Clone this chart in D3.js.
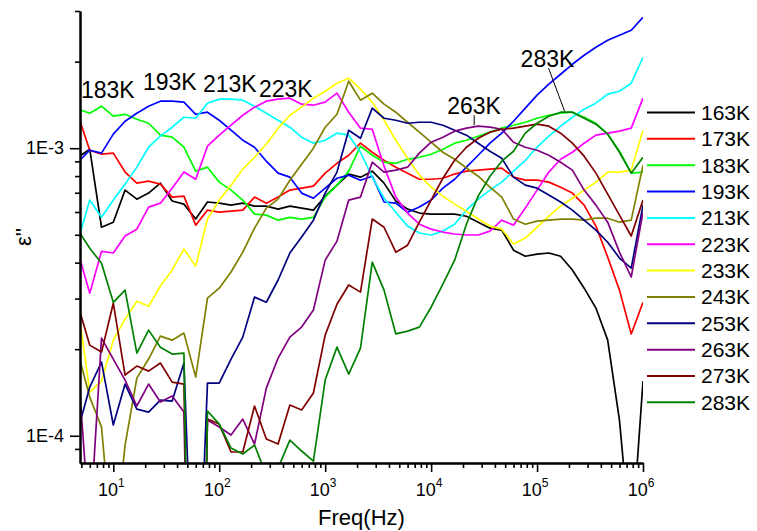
<!DOCTYPE html>
<html>
<head>
<meta charset="utf-8">
<script src="https://cdn.jsdelivr.net/npm/d3@7"></script>
<style>
  html, body { margin: 0; padding: 0; background: #fff; }
  svg { display: block; font-family: "Liberation Sans", Arial, sans-serif; }
</style>
</head>
<body>
<svg id="chart" width="757" height="531"></svg>
<script>
// Measurement frequencies (Hz), 9 points per decade
const freqs = [4.642, 5.995, 7.743, 10, 12.92, 16.68, 21.54, 27.83, 35.94, 46.42,
  59.95, 77.43, 100, 129.2, 166.8, 215.4, 278.3, 359.4, 464.2, 599.5,
  774.3, 1000, 1292, 1668, 2154, 2783, 3594, 4642, 5995, 7743,
  10000, 12915, 16681, 21544, 27826, 35938, 46416, 59948, 77426, 100000,
  129155, 166810, 215443, 278256, 359381, 464159, 599484, 774264, 1000000];

// Dielectric loss ε'' for each temperature, in units of 1E-3
const eps163 = [0.930, 0.992, 0.531, 0.553, 0.715, 0.665, 0.698, 0.756, 0.655, 0.639,
  0.567, 0.650, 0.644, 0.634, 0.644, 0.629, 0.629, 0.614, 0.629, 0.619,
  0.609, 0.681, 0.744, 0.813, 0.793, 0.832, 0.756, 0.655, 0.614, 0.595,
  0.590, 0.590, 0.590, 0.580, 0.553, 0.527, 0.519, 0.442, 0.421, 0.428,
  0.432, 0.421, 0.377, 0.326, 0.278, 0.215, 0.1134, 0.0404, 0.155];
const eps173 = [1.302, 0.984, 0.953, 0.961, 0.826, 0.756, 0.768, 0.750, 0.676, 0.681,
  0.540, 0.609, 0.599, 0.604, 0.609, 0.676, 0.644, 0.676, 0.715, 0.726,
  0.738, 0.819, 0.886, 0.945, 1.041, 0.968, 0.908, 0.859, 0.819, 0.780,
  0.780, 0.786, 0.813, 0.832, 0.839, 0.846, 0.853, 0.793, 0.774, 0.774,
  0.762, 0.732, 0.698, 0.634, 0.536, 0.418, 0.321, 0.226, 0.291];
const eps183 = [1.367, 1.323, 1.400, 1.292, 1.312, 1.261, 1.221, 1.110, 1.092, 1.008,
  0.832, 0.859, 0.762, 0.715, 0.660, 0.590, 0.585, 0.562, 0.575, 0.567,
  0.575, 0.676, 0.744, 0.832, 1.016, 0.945, 0.894, 0.886, 0.915, 0.930,
  0.953, 0.992, 1.041, 1.066, 1.101, 1.137, 1.174, 1.202, 1.231, 1.271,
  1.302, 1.323, 1.334, 1.281, 1.221, 1.119, 0.976, 0.819, 0.826];
const eps193 = [0.894, 0.984, 0.961, 1.119, 1.241, 1.323, 1.400, 1.457, 1.457, 1.446,
  1.312, 1.334, 1.251, 1.155, 1.066, 1.008, 0.901, 0.819, 0.793, 0.698,
  0.670, 0.726, 0.786, 0.806, 0.774, 0.799, 0.650, 0.644, 0.599, 0.624,
  0.660, 0.726, 0.780, 0.859, 0.945, 1.041, 1.128, 1.241, 1.378, 1.529,
  1.670, 1.808, 1.958, 2.105, 2.244, 2.374, 2.471, 2.571, 2.854];
const eps213 = [0.475, 0.660, 0.575, 0.660, 0.750, 0.859, 1.008, 1.101, 1.183, 1.281,
  1.271, 1.434, 1.481, 1.481, 1.469, 1.400, 1.323, 1.251, 1.183, 1.092,
  1.041, 1.066, 1.128, 1.110, 0.968, 0.793, 0.670, 0.599, 0.536, 0.507,
  0.499, 0.515, 0.544, 0.609, 0.665, 0.715, 0.762, 0.832, 0.908, 1.008,
  1.101, 1.193, 1.281, 1.367, 1.434, 1.541, 1.578, 1.683, 2.071];
const eps223 = [0.435, 0.313, 0.438, 0.432, 0.495, 0.523, 0.624, 0.644, 0.726, 0.826,
  0.780, 1.016, 1.110, 1.202, 1.302, 1.389, 1.457, 1.481, 1.493, 1.423,
  1.411, 1.446, 1.554, 1.334, 1.174, 1.164, 0.866, 0.676, 0.595, 0.544,
  0.523, 0.511, 0.503, 0.499, 0.499, 0.515, 0.562, 0.540, 0.619, 0.715,
  0.826, 0.915, 0.968, 1.041, 1.110, 1.128, 1.146, 1.174, 1.493];
const eps233 = [0.282, 0.1419, 0.1550, 0.215, 0.2544, 0.2936, 0.282, 0.3317, 0.377, 0.446,
  0.389, 0.567, 0.660, 0.744, 0.846, 0.930, 1.032, 1.174, 1.302, 1.389,
  1.493, 1.578, 1.683, 1.752, 1.604, 1.446, 1.251, 1.066, 0.923, 0.806,
  0.732, 0.681, 0.639, 0.604, 0.567, 0.536, 0.523, 0.464, 0.487, 0.531,
  0.580, 0.629, 0.670, 0.715, 0.762, 0.826, 0.826, 0.839, 1.155];
const eps243 = [0.1939, 0.1363, 0.1072, 0.0370, 0.0928, 0.1587, 0.1848, 0.2221, 0.215, 0.2275,
  0.160, 0.301, 0.326, 0.371, 0.435, 0.527, 0.619, 0.665, 0.774, 0.879,
  1.000, 1.183, 1.312, 1.710, 1.469, 1.553, 1.423, 1.334, 1.231, 1.137,
  1.049, 0.968, 0.915, 0.853, 0.799, 0.732, 0.676, 0.567, 0.544, 0.558,
  0.562, 0.567, 0.567, 0.562, 0.571, 0.571, 0.553, 0.562, 0.872];
const eps253 = [0.1047, 0.1477, 0.1804, 0.1090, 0.1513, 0.1238, 0.1209, 0.1331, 0.1320, 0.1790,
  0.01415, 0.1525, 0.1525, 0.1848, 0.2203, 0.3035, 0.2913, 0.348, 0.432, 0.491,
  0.562, 0.698, 0.826, 1.155, 1.083, 1.378, 1.271, 1.251, 1.221, 1.231,
  1.231, 1.202, 1.155, 1.110, 1.041, 0.976, 0.923, 0.793, 0.744, 0.726,
  0.687, 0.650, 0.609, 0.562, 0.519, 0.471, 0.415, 0.383, 0.634];
const eps263 = [0.1747, 0.0467, 0.2185, 0.1848, 0.1562, 0.1269, 0.1513, 0.1310, 0.1374, 0.1209,
  0.001, 0.1134, 0.1072, 0.1006, 0.1143, 0.0936, 0.1465, 0.1863, 0.2203, 0.2387,
  0.2735, 0.408, 0.475, 0.660, 0.676, 0.894, 0.826, 0.839, 0.859, 0.961,
  1.049, 1.092, 1.146, 1.174, 1.193, 1.183, 1.164, 1.049, 1.008, 0.984,
  0.945, 0.894, 0.839, 0.715, 0.634, 0.553, 0.435, 0.3565, 0.599];
const eps273 = [0.2844, 0.2066, 0.1954, 0.2890, 0.1626, 0.1747, 0.1678, 0.1790, 0.1537, 0.1513,
  0.001, 0.1143, 0.1098, 0.0878, 0.0878, 0.1269, 0.0974, 0.0936, 0.1279, 0.1229,
  0.1408, 0.2239, 0.2867, 0.3344, 0.3159, 0.567, 0.531, 0.435, 0.460, 0.553,
  0.660, 0.786, 0.908, 1.008, 1.083, 1.137, 1.164, 1.174, 1.193, 1.212,
  1.193, 1.128, 1.041, 0.938, 0.819, 0.692, 0.585, 0.495, 0.660];
const eps283 = [0.519, 0.449, 0.398, 0.291, 0.321, 0.1939, 0.233, 0.2033, 0.1923, 0.1939,
  0.0005, 0.1219, 0.1098, 0.0906, 0.0864, 0.0928, 0.0730, 0.0772, 0.0966, 0.0885,
  0.0816, 0.1562, 0.2033, 0.1639, 0.2017, 0.4015, 0.321, 0.226, 0.2312, 0.2387,
  0.2799, 0.337, 0.408, 0.544, 0.681, 0.799, 0.901, 0.976, 1.128, 1.221,
  1.292, 1.334, 1.334, 1.271, 1.212, 1.119, 0.968, 0.819, 0.930];

const tempLabels = ["163K", "173K", "183K", "193K", "213K", "223K",
  "233K", "243K", "253K", "263K", "273K", "283K"];
const tempColors = ["#000000", "#ff0000", "#00ff00", "#0000ff", "#00ffff", "#ff00ff",
  "#ffff00", "#808000", "#000080", "#800080", "#800000", "#008000"];
const epsSeries = [eps163, eps173, eps183, eps193, eps213, eps223,
  eps233, eps243, eps253, eps263, eps273, eps283];
const EPS_UNIT = 1e-3;

const xTickExponents = [1, 2, 3, 4, 5, 6];
const yTickValues = [1e-4, 1e-3];
const yTickLabels = ["1E-4", "1E-3"];

// ---------------------------------------------------------------------------
const svg = d3.select("#chart");
const plot = { left: 80, right: 643, top: 11, bottom: 463 };

const x = d3.scaleLog().domain([4.85, 1e6]).range([plot.left, plot.right]);
const y = d3.scaleLog().domain([8.04e-5, 3e-3]).range([plot.bottom, plot.top]);

svg.append("defs").append("clipPath").attr("id", "plot-clip")
  .append("rect")
  .attr("x", plot.left).attr("y", 0)
  .attr("width", plot.right - plot.left).attr("height", plot.bottom);

// Curves
const series = tempLabels.map((name, i) => ({
  name, color: tempColors[i],
  points: freqs.map((f, k) => ({ f, v: epsSeries[i][k] * EPS_UNIT }))
}));

const line = d3.line().x(d => x(d.f)).y(d => y(d.v));

svg.append("g").attr("clip-path", "url(#plot-clip)")
  .selectAll("path").data(series).join("path")
  .attr("d", d => line(d.points))
  .attr("fill", "none")
  .attr("stroke", d => d.color)
  .attr("stroke-width", 1.7)
  .attr("stroke-linejoin", "round");

// Minor tick positions on the log axes
const xMinor = [];
for (let e = 0; e <= 5; e++) for (let m = 2; m <= 9; m++) {
  const v = m * Math.pow(10, e);
  if (v >= x.domain()[0] && v <= x.domain()[1]) xMinor.push(v);
}
const yMinor = [];
for (let e = -5; e <= -3; e++) for (let m = 2; m <= 9; m++) {
  const v = m * Math.pow(10, e);
  if (v >= y.domain()[0] && v <= y.domain()[1]) yMinor.push(v);
}

// X axis
const gx = svg.append("g").attr("transform", `translate(0,${plot.bottom})`);
gx.call(d3.axisBottom(x).tickValues(xMinor).tickSize(5).tickSizeOuter(0).tickFormat(""));
gx.call(g => g.append("g").call(
  d3.axisBottom(x).tickValues(xTickExponents.map(e => Math.pow(10, e))).tickSize(9).tickSizeOuter(0).tickFormat("")));
gx.selectAll("path.domain").attr("stroke", "#000").attr("stroke-width", 2);
gx.selectAll(".tick line").attr("stroke", "#000").attr("stroke-width", 1.6);

const xLabels = gx.append("g").attr("font-size", 18).attr("fill", "#000");
xTickExponents.forEach(e => {
  const t = xLabels.append("text")
    .attr("x", x(Math.pow(10, e)) - 2).attr("y", 33)
    .attr("text-anchor", "middle");
  t.append("tspan").text("10");
  t.append("tspan").attr("font-size", 12).attr("dy", -9).text(e);
});

// Y axis
const gy = svg.append("g").attr("transform", `translate(${plot.left},0)`);
gy.call(d3.axisLeft(y).tickValues(yMinor).tickSize(5).tickSizeOuter(0).tickFormat(""));
gy.call(g => g.append("g").call(
  d3.axisLeft(y).tickValues(yTickValues).tickSize(10).tickSizeOuter(0).tickFormat("")));
gy.selectAll("path.domain").attr("stroke", "#000").attr("stroke-width", 2);
gy.selectAll(".tick line").attr("stroke", "#000").attr("stroke-width", 1.6);
gy.append("g").selectAll("text").data(yTickValues).join("text")
  .attr("x", -16).attr("y", d => y(d)).attr("dy", "0.35em")
  .attr("text-anchor", "end").attr("font-size", 18).attr("fill", "#000")
  .text((d, i) => yTickLabels[i]);

// Axis titles
svg.append("text")
  .attr("x", (plot.left + plot.right) / 2).attr("y", 525)
  .attr("text-anchor", "middle").attr("font-size", 22).attr("fill", "#000")
  .text("Freq(Hz)");
svg.append("text")
  .attr("transform", `translate(31,${(plot.top + plot.bottom) / 2}) rotate(-90)`)
  .attr("text-anchor", "middle").attr("font-size", 22).attr("fill", "#000")
  .text("ε''");

// Legend
const legend = svg.append("g").attr("transform", "translate(647,112.5)");
const rows = legend.selectAll("g").data(series).join("g")
  .attr("transform", (d, i) => `translate(0,${i * 26.35})`);
rows.append("line").attr("x1", 0).attr("x2", 48).attr("y1", 0).attr("y2", 0)
  .attr("stroke", d => d.color).attr("stroke-width", 2);
rows.append("text").attr("x", 54).attr("dy", "0.35em")
  .attr("font-size", 21).attr("fill", "#000").text(d => d.name);

// Curve annotations
const notes = svg.append("g").attr("font-size", 23).attr("fill", "#000");
notes.append("text").attr("x", 81).attr("y", 98).text("183K");
notes.append("text").attr("x", 143).attr("y", 90).text("193K");
notes.append("text").attr("x", 203).attr("y", 92).text("213K");
notes.append("text").attr("x", 259).attr("y", 97).text("223K");

// 263K: label above its loss peak, with a short leader
const p263 = series[9].points[34];
const a263 = [x(p263.f) - 4, y(p263.v)];
notes.append("line").attr("x1", a263[0]).attr("y1", a263[1] - 1)
  .attr("x2", a263[0]).attr("y2", a263[1] - 11)
  .attr("stroke", "#000").attr("stroke-width", 1);
notes.append("text").attr("x", a263[0] - 27).attr("y", a263[1] - 12).text("263K");

// 283K: label with a slanted leader down to the peak
const p283 = series[11].points[41];
const a283 = [x(p283.f) + 4, y(p283.v)];
notes.append("line").attr("x1", a283[0]).attr("y1", a283[1] - 1)
  .attr("x2", a283[0] - 16).attr("y2", a283[1] - 44)
  .attr("stroke", "#000").attr("stroke-width", 1);
notes.append("text").attr("x", a283[0] - 44).attr("y", a283[1] - 45).text("283K");
</script>
</body>
</html>
